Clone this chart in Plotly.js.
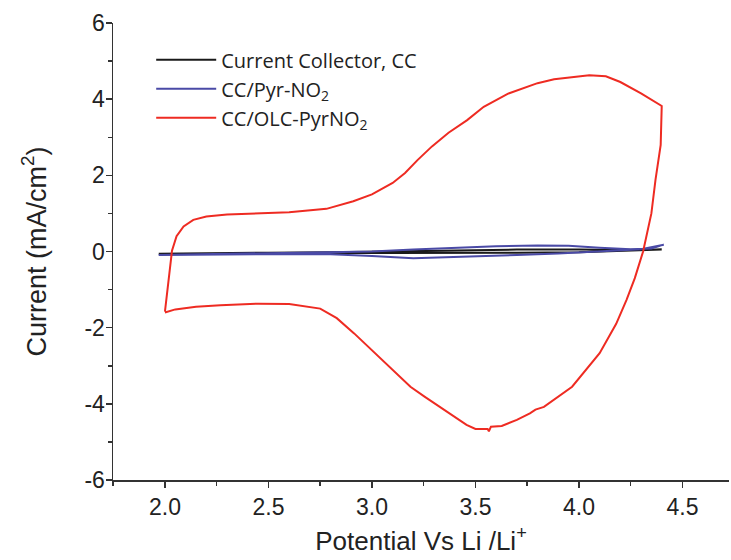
<!DOCTYPE html>
<html>
<head>
<meta charset="utf-8">
<script src="https://cdn.plot.ly/plotly-3.0.1.min.js"></script>
<style>html,body{margin:0;padding:0;background:#fff;}#chart{width:731px;height:560px;}</style>
</head>
<body>
<div id="chart"></div>
<script>
// Current collector (black): potential (V) and current (mA/cm2)
const ccX = [1.97, 2.2, 2.5, 2.8, 3.1, 3.4, 3.7, 4.0, 4.2, 4.4, 4.2, 4.0, 3.7, 3.4, 3.1, 2.8, 2.5, 2.2, 1.97];
const ccY = [-0.06, -0.04, -0.03, -0.02, 0.00, 0.03, 0.05, 0.05, 0.04, 0.05, 0.01, -0.02, -0.03, -0.04, -0.04, -0.04, -0.05, -0.06, -0.07];

// CC/Pyr-NO2 (blue)
const pyrX = [1.97, 2.2, 2.5, 2.8, 3.0, 3.2, 3.4, 3.6, 3.8, 3.95, 4.1, 4.25, 4.35, 4.41, 4.3, 4.1, 3.9, 3.7, 3.5, 3.3, 3.2, 3.0, 2.8, 2.5, 2.2, 1.97];
const pyrY = [-0.09, -0.07, -0.05, -0.03, 0.00, 0.05, 0.10, 0.14, 0.16, 0.15, 0.10, 0.06, 0.08, 0.18, 0.06, 0.00, -0.05, -0.09, -0.13, -0.17, -0.18, -0.12, -0.07, -0.07, -0.08, -0.09];

// CC/OLC-PyrNO2 (red)
const olcX = [2.000, 2.010, 2.022, 2.034, 2.056, 2.090, 2.137, 2.200, 2.300, 2.450, 2.600, 2.780, 2.910, 3.000, 3.100, 3.160, 3.220, 3.290, 3.370, 3.460, 3.540, 3.660, 3.800, 3.880, 3.960, 4.050, 4.130, 4.200, 4.300, 4.400,
              4.395, 4.370, 4.350, 4.310, 4.270, 4.230, 4.180, 4.100, 3.967, 3.831, 3.790, 3.763, 3.700, 3.627, 3.575, 3.565, 3.559, 3.500, 3.457, 3.372, 3.254, 3.186, 3.101, 3.016, 2.914, 2.830, 2.750, 2.600, 2.450, 2.268, 2.150, 2.050, 2.000];
const olcY = [-1.58, -1.10, -0.57, 0.02, 0.40, 0.66, 0.83, 0.92, 0.97, 1.00, 1.03, 1.12, 1.32, 1.50, 1.80, 2.06, 2.40, 2.76, 3.12, 3.45, 3.80, 4.15, 4.42, 4.52, 4.58, 4.63, 4.60, 4.45, 4.15, 3.82,
              2.80, 1.89, 1.00, 0.00, -0.70, -1.27, -1.90, -2.67, -3.55, -4.08, -4.15, -4.25, -4.42, -4.58, -4.60, -4.72, -4.66, -4.66, -4.55, -4.25, -3.81, -3.55, -3.11, -2.67, -2.15, -1.75, -1.50, -1.38, -1.37, -1.41, -1.45, -1.52, -1.60];

// tick labels
const xTickVals = [2.0, 2.5, 3.0, 3.5, 4.0, 4.5];
const xTickText = ['2.0', '2.5', '3.0', '3.5', '4.0', '4.5'];
const yTickVals = [-6, -4, -2, 0, 2, 4, 6];
const yTickText = ['-6', '-4', '-2', '0', '2', '4', '6'];

const traces = [
  {x: ccX, y: ccY, name: 'Current Collector, CC', mode: 'lines', line: {color: '#1a1a1a', width: 2}},
  {x: pyrX, y: pyrY, name: 'CC/Pyr-NO<sub>2</sub>', mode: 'lines', line: {color: '#4a4aa6', width: 2}},
  {x: olcX, y: olcY, name: 'CC/OLC-PyrNO<sub>2</sub>', mode: 'lines', line: {color: '#ee2b22', width: 2}}
];

const fam = 'Liberation Sans, Arial, sans-serif';
const axisFont = {family: fam, size: 23, color: '#222'};
const layout = {
  width: 731, height: 560,
  margin: {l: 113, r: 2, t: 23, b: 80},
  paper_bgcolor: '#fff', plot_bgcolor: '#fff',
  showlegend: true,
  legend: {x: 0.062, y: 0.962, xanchor: 'left', yanchor: 'top', bgcolor: 'rgba(0,0,0,0)',
           font: {family: 'Open Sans, sans-serif', size: 20, color: '#222'}, itemwidth: 60, tracegroupgap: 0},
  xaxis: {
    range: [1.749, 4.725], tickvals: xTickVals, ticktext: xTickText,
    ticks: 'outside', ticklen: 6, tickwidth: 1.5, tickcolor: '#333',
    minor: {tickvals: [1.75, 2.25, 2.75, 3.25, 3.75, 4.25], ticks: 'outside', ticklen: 4, tickwidth: 1.5, tickcolor: '#333'},
    showline: true, linecolor: '#333', linewidth: 1.5, showgrid: false, zeroline: false,
    tickfont: axisFont,
    title: {text: 'Potential Vs Li /Li<sup>+</sup>', font: {family: fam, size: 26, color: '#222'}, standoff: 12}
  },
  yaxis: {
    range: [-6, 6], tickvals: yTickVals, ticktext: yTickText,
    ticks: 'outside', ticklen: 6, tickwidth: 1.5, tickcolor: '#333', ticklabelstandoff: -4,
    minor: {tickvals: [-5, -3, -1, 1, 3, 5], ticks: 'outside', ticklen: 4, tickwidth: 1.5, tickcolor: '#333'},
    showline: true, linecolor: '#333', linewidth: 1.5, showgrid: false, zeroline: false,
    tickfont: axisFont,
    title: {text: 'Current (mA/cm<sup>2</sup>)', font: {family: fam, size: 27, color: '#222'}, standoff: 30}
  }
};

Plotly.newPlot('chart', traces, layout, {displayModeBar: false, staticPlot: true});
</script>
</body>
</html>
